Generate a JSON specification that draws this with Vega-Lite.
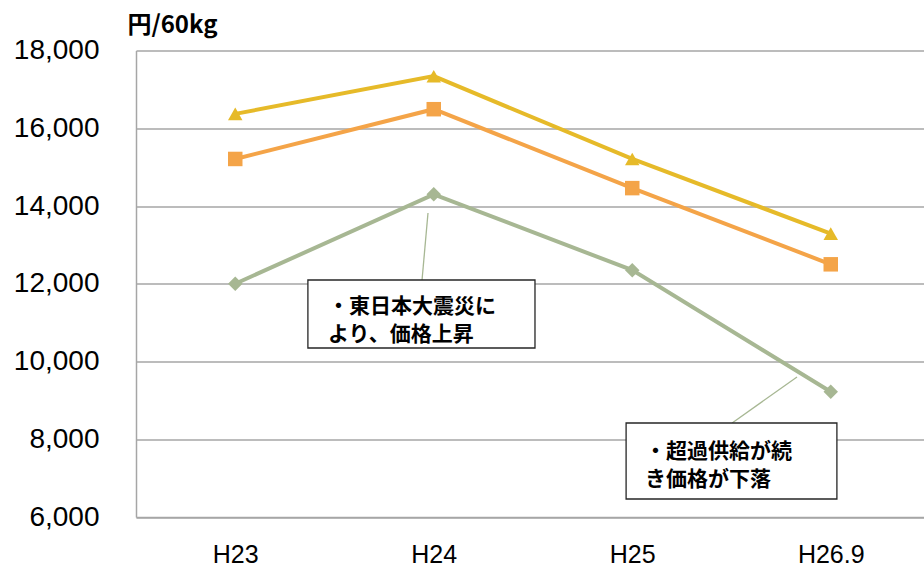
{
  "$schema": "https://vega.github.io/schema/vega-lite/v6.json",
  "width": 794,
  "height": 466.5,
  "autosize": "none",
  "padding": {"left": 136, "top": 50.5, "right": 0, "bottom": 53},
  "background": "white",
  "config": {"view": {"stroke": null}},
  "datasets": {
    "prices": [
      {"period": "H23", "i": 0, "series": "A", "price": 16370},
      {"period": "H24", "i": 1, "series": "A", "price": 17340},
      {"period": "H25", "i": 2, "series": "A", "price": 15210},
      {"period": "H26.9", "i": 3, "series": "A", "price": 13290},
      {"period": "H23", "i": 0, "series": "B", "price": 15210},
      {"period": "H24", "i": 1, "series": "B", "price": 16490},
      {"period": "H25", "i": 2, "series": "B", "price": 14460},
      {"period": "H26.9", "i": 3, "series": "B", "price": 12500},
      {"period": "H23", "i": 0, "series": "C", "price": 12000},
      {"period": "H24", "i": 1, "series": "C", "price": 14300},
      {"period": "H25", "i": 2, "series": "C", "price": 12350},
      {"period": "H26.9", "i": 3, "series": "C", "price": 9220}
    ],
    "boxes": [
      {"x1": 0.366, "x2": 1.51, "y1": 12096, "y2": 10347},
      {"x1": 1.969, "x2": 3.031, "y1": 8418, "y2": 6463}
    ],
    "leaders": [
      {"x1": 0.971, "x2": 0.941, "y1": 13820, "y2": 12096},
      {"x1": 2.83, "x2": 2.503, "y1": 9601, "y2": 8418}
    ],
    "notes": [
      {"x": 0.467, "y": 11402, "label": "・東日本大震災に\nより、価格上昇"},
      {"x": 2.064, "y": 7672, "label": "・超過供給が続\nき価格が下落"}
    ]
  },
  "layer": [
    {
      "data": {"name": "prices"},
      "mark": {"type": "line", "strokeWidth": 4},
      "encoding": {
        "x": {
          "field": "i", "type": "quantitative", "title": null,
          "scale": {"domain": [-0.5, 3.5], "nice": false, "zero": false},
          "axis": {
            "values": [0, 1, 2, 3],
            "labelExpr": "['H23','H24','H25','H26.9'][datum.value]",
            "grid": false, "ticks": false, "domainColor": "#A6A6A6", "domainWidth": 1.5,
            "labelFont": "Liberation Sans", "labelFontSize": 25, "labelColor": "#000",
            "labelPadding": 25, "labelBaseline": "top"
          }
        },
        "y": {
          "field": "price", "type": "quantitative", "title": "円/60kg",
          "scale": {"domain": [6000, 18000], "nice": false, "zero": false},
          "axis": {
            "titleAngle": 0, "titleX": 36, "titleY": -25,
            "titleAlign": "center", "titleBaseline": "middle",
            "titleFont": "Noto Sans CJK JP", "titleFontSize": 24, "titleFontWeight": "bold", "titleColor": "#000",
            "values": [6000, 8000, 10000, 12000, 14000, 16000, 18000],
            "format": ",d", "ticks": false, "labelPadding": 37,
            "labelFont": "Liberation Sans", "labelFontSize": 28, "labelColor": "#000",
            "grid": true, "gridColor": "#A6A6A6", "gridWidth": 1.5,
            "domainColor": "#A6A6A6", "domainWidth": 1.5
          }
        },
        "color": {
          "field": "series", "type": "nominal", "legend": null,
          "scale": {"domain": ["A", "B", "C"], "range": ["#E6BA29", "#F4A448", "#A7B793"]}
        }
      }
    },
    {
      "data": {"name": "prices"},
      "mark": {"type": "point", "filled": true, "opacity": 1, "size": 210},
      "encoding": {
        "x": {"field": "i", "type": "quantitative", "title": null},
        "y": {"field": "price", "type": "quantitative", "title": "円/60kg"},
        "color": {"field": "series", "type": "nominal", "legend": null},
        "shape": {
          "field": "series", "type": "nominal", "legend": null,
          "scale": {"domain": ["A", "B", "C"], "range": ["triangle-up", "square", "diamond"]}
        }
      }
    },
    {
      "data": {"name": "leaders"},
      "mark": {"type": "rule", "color": "#A7B793", "strokeWidth": 1.3},
      "encoding": {
        "x": {"field": "x1", "type": "quantitative", "title": null},
        "x2": {"field": "x2"},
        "y": {"field": "y1", "type": "quantitative", "title": "円/60kg"},
        "y2": {"field": "y2"}
      }
    },
    {
      "data": {"name": "boxes"},
      "mark": {"type": "rect", "fill": "white", "stroke": "#262626", "strokeWidth": 1.3},
      "encoding": {
        "x": {"field": "x1", "type": "quantitative", "title": null},
        "x2": {"field": "x2"},
        "y": {"field": "y1", "type": "quantitative", "title": "円/60kg"},
        "y2": {"field": "y2"}
      }
    },
    {
      "data": {"name": "notes"},
      "mark": {"type": "text", "align": "left", "baseline": "middle", "lineBreak": "\n", "lineHeight": 28, "font": "Noto Sans CJK JP", "fontSize": 21, "fontWeight": "bold", "color": "#000"},
      "encoding": {
        "x": {"field": "x", "type": "quantitative", "title": null},
        "y": {"field": "y", "type": "quantitative", "title": "円/60kg"},
        "text": {"field": "label"}
      }
    }
  ]
}
